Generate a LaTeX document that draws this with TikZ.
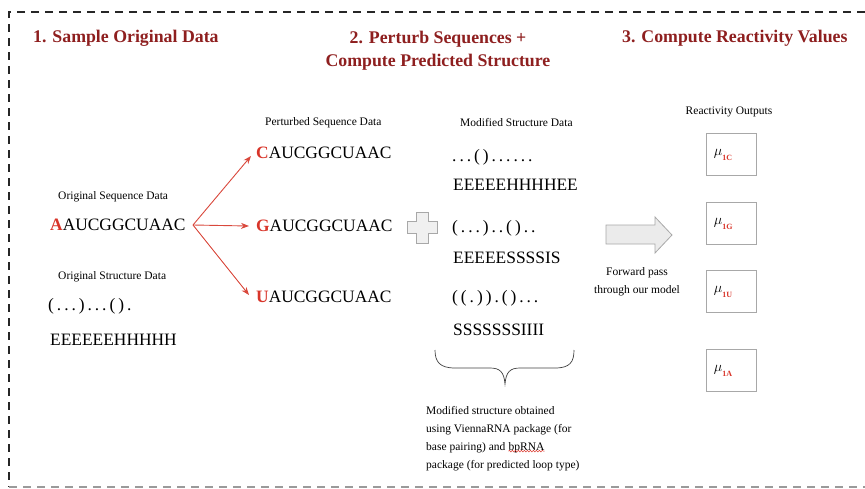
\documentclass[tikz,border=0pt]{standalone}
\usepackage{fontspec}
\setmainfont{Liberation Serif}
\newfontfamily\spfont[LetterSpace=17]{Liberation Serif}
\usetikzlibrary{arrows.meta,decorations.pathmorphing}
\definecolor{titlered}{HTML}{8E1F1F}
\definecolor{hired}{HTML}{D8352A}
\definecolor{arrred}{HTML}{D9483C}
\definecolor{boxgray}{HTML}{A8A8A8}
\definecolor{bordergray}{HTML}{9A9A9A}
\newcommand{\hl}[1]{\textcolor{hired}{\bfseries #1}}
\begin{document}
\begin{tikzpicture}[x=1pt,y=-1pt,
  title/.style={font=\fontsize{17.8}{23}\selectfont\bfseries, text=titlered, inner sep=0, align=center},
  small/.style={font=\fontsize{11.5}{13}\selectfont, inner sep=0},
  seq/.style={font=\fontsize{17.4}{20}\selectfont, anchor=west, inner sep=0},
  dots/.style={font=\fontsize{17.4}{20}\selectfont\spfont, anchor=west, inner sep=0},
  redarrow/.style={draw=arrred, line width=0.9pt, -{Stealth[length=8pt,width=6pt]}},
  outbox/.style={draw=boxgray, line width=0.8pt, minimum width=50pt, minimum height=42pt, inner sep=0},
  mulabel/.style={inner sep=0, anchor=west},
  noteline/.style={small, anchor=base west}
]
\useasboundingbox (0,0) rectangle (865,488);
% border
\draw[line width=1.8pt, draw=black!85, dash pattern=on 8pt off 6pt] (865,12) -- (9,12) -- (9,487);
\draw[line width=1.8pt, draw=bordergray, dash pattern=on 8pt off 6pt] (9,487) -- (865,487);

% titles
\node[title, anchor=west] (t1) at (33,38) {1. Sample Original Data};
\node[title] (t2) at (438,51) {2. Perturb Sequences +\\Compute Predicted Structure};
\node[title, anchor=west] (t3) at (622,38) {3. Compute Reactivity Values};

% original data
\node[small, anchor=west] (osl) at (58,197) {Original Sequence Data};
\node[seq] (oseq) at (50,225) {\hl{A}AUCGGCUAAC};
\node[small, anchor=west] (ostl) at (58,277) {Original Structure Data};
\node[dots] (ost) at (48,306) {(...)...().};
\node[seq] (oloop) at (50,340) {EEEEEEHHHHH};

% perturbed sequences
\node[small, anchor=west] (psl) at (265,123) {Perturbed Sequence Data};
\node[seq] (pc) at (256,153) {\hl{C}AUCGGCUAAC};
\node[seq] (pg) at (256,226) {\hl{G}AUCGGCUAAC};
\node[seq] (pu) at (256,297) {\hl{U}AUCGGCUAAC};

\coordinate (fork) at (193,225);
\draw[redarrow] (fork) -- ([xshift=-5pt,yshift=-3pt]pc.west);
\draw[redarrow] (fork) -- ([xshift=-7pt]pg.west);
\draw[redarrow] (fork) -- ([xshift=-7pt,yshift=2pt]pu.west);

% plus sign
\draw[draw=boxgray, fill=black!6, line width=0.8pt]
  (416,212) -- (428,212) -- (428,221) -- (437,221) -- (437,233) -- (428,233)
  -- (428,243) -- (416,243) -- (416,233) -- (407,233) -- (407,221) -- (416,221) -- cycle;

% modified structures
\node[small, anchor=west] (msl) at (460,123) {Modified Structure Data};
\node[dots] (m1) at (452,157) {...()......};
\node[seq] (l1) at (453,185) {EEEEEHHHHEE};
\node[dots] (m2) at (452,228) {(...)..()..};
\node[seq] (l2) at (453,258) {EEEEESSSSIS};
\node[dots] (m3) at (452,298) {((.)).()...};
\node[seq] (l3) at (453,330) {SSSSSSSIIII};

% brace
\draw[line width=0.7pt, draw=black!75]
  (435,350) .. controls (435,362) and (440,368) .. (455,368)
  -- (490,368) .. controls (500,368) and (504,372) .. (505,384)
  .. controls (506,372) and (510,368) .. (520,368)
  -- (555,368) .. controls (570,368) and (574,362) .. (574,350);

% note
\node[noteline] (n1) at (426,414) {Modified structure obtained};
\node[noteline] (n2) at (426,432) {using ViennaRNA package (for};
\node[noteline] (n3) at (426,450) {base pairing) and};
\node[noteline, anchor=base west] (n3b) at ([xshift=2.9pt]n3.base east) {bpRNA};
\node[noteline] (n4) at (426,468) {package (for predicted loop type)};
\draw[draw=hired, line width=0.5pt, decorate, decoration={snake, amplitude=0.8pt, segment length=3pt}]
  ([yshift=1.5pt]n3b.south west) -- ([yshift=1.5pt]n3b.south east);

% forward pass arrow
\draw[draw=boxgray, fill=black!8, line width=0.8pt] (606,225) -- (655,225) -- (655,217) -- (672,235)
  -- (655,253) -- (655,244) -- (606,244) -- cycle;
\node[small, align=center, font=\fontsize{11.5}{18}\selectfont] (fwdl) at (637,282) {Forward pass\\through our model};

% outputs
\node[small] (rol) at (729,112) {Reactivity Outputs};
\node[outbox] (o1) at (731,154) {};
\node[outbox] (o2) at (731,223) {};
\node[outbox] (o3) at (731,291) {};
\node[outbox] (o4) at (731,370) {};
\foreach \b/\s in {o1/1C, o2/1G, o3/1U, o4/1A}{
  \node[mulabel] at ([xshift=8pt,yshift=-1pt]\b.west) {\fontsize{14}{14}\selectfont$\mu$\raisebox{-4.5pt}{\fontsize{8}{8}\selectfont\bfseries\color{hired}\s}};
}
\end{tikzpicture}
\end{document}
